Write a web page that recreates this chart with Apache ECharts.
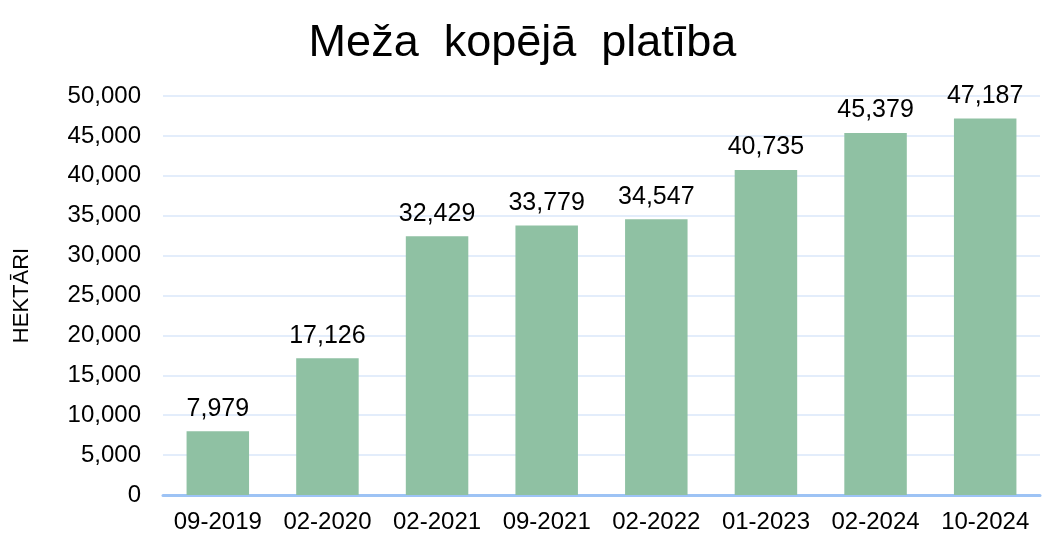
<!DOCTYPE html>
<html>
<head>
<meta charset="utf-8">
<script src="https://cdn.jsdelivr.net/npm/echarts@6/dist/echarts.min.js"></script>
<style>
  html, body { margin: 0; padding: 0; background: #fff; }
  #chart { width: 1045px; height: 538px; }
</style>
</head>
<body>
<div id="chart"></div>
<script>
const categories = ["09-2019", "02-2020", "02-2021", "09-2021", "02-2022", "01-2023", "02-2024", "10-2024"];
const areaValues = [7979, 17126, 32429, 33779, 34547, 40735, 45379, 47187];

const font = "Liberation Sans, Arial, sans-serif";
const fmt = v => v.toLocaleString("en-US");

const chart = echarts.init(document.getElementById("chart"));
chart.setOption({
  backgroundColor: "#fff",
  animation: false,
  title: {
    text: "Meža  kopējā  platība",
    left: "center",
    top: 16,
    textStyle: { fontFamily: font, fontSize: 45, fontWeight: "normal", color: "#000" }
  },
  grid: { left: 163, right: 5, top: 96, bottom: 43 },
  xAxis: {
    type: "category",
    data: categories,
    axisTick: { show: false },
    axisLine: { lineStyle: { color: "#9dc3f5", width: 3 } },
    axisLabel: { color: "#000", fontFamily: font, fontSize: 24, margin: 15, interval: 0 }
  },
  yAxis: {
    type: "value",
    min: 0,
    max: 50000,
    interval: 5000,
    name: "HEKTĀRI",
    nameLocation: "middle",
    nameRotate: 90,
    nameGap: 130,
    nameTextStyle: { color: "#000", fontFamily: font, fontSize: 22 },
    axisLabel: { color: "#000", fontFamily: font, fontSize: 24, margin: 22, formatter: fmt },
    splitLine: { lineStyle: { color: "#e3edfb", width: 2 } }
  },
  series: [{
    type: "bar",
    data: areaValues,
    barWidth: "57%",
    itemStyle: { color: "#8fc1a3" },
    label: {
      show: true,
      position: "top",
      distance: 10,
      color: "#000",
      fontFamily: font,
      fontSize: 25,
      formatter: p => fmt(p.value)
    }
  }]
});
</script>
</body>
</html>
